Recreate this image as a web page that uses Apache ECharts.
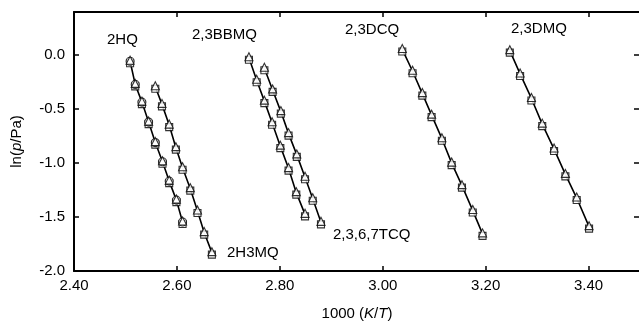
<!DOCTYPE html>
<html>
<head>
<meta charset="utf-8">
<script src="https://cdn.jsdelivr.net/npm/echarts@6/dist/echarts.min.js"></script>
<style>html,body{margin:0;padding:0;background:#fff}#c{width:639px;height:322px}</style>
</head>
<body>
<div id="c"></div>
<script>
// Data (1000/T in K^-1, ln(p/Pa))
const hq_x = [2.509, 2.519, 2.532, 2.545, 2.558, 2.572, 2.585, 2.599, 2.611];
const hq_y = [-0.056, -0.271, -0.435, -0.620, -0.810, -0.987, -1.167, -1.343, -1.546];
const h3mq_x = [2.558, 2.571, 2.585, 2.598, 2.611, 2.626, 2.640, 2.653, 2.668];
const h3mq_y = [-0.293, -0.456, -0.648, -0.857, -1.043, -1.237, -1.444, -1.644, -1.830];
const bbmq_x = [2.740, 2.755, 2.770, 2.785, 2.801, 2.817, 2.832, 2.849];
const bbmq_y = [-0.024, -0.232, -0.426, -0.626, -0.843, -1.051, -1.274, -1.475];
const tcq_x = [2.770, 2.786, 2.802, 2.817, 2.833, 2.849, 2.864, 2.880];
const tcq_y = [-0.121, -0.322, -0.523, -0.727, -0.924, -1.131, -1.330, -1.549];
const dcq_x = [3.038, 3.058, 3.077, 3.095, 3.115, 3.134, 3.154, 3.175, 3.194];
const dcq_y = [0.053, -0.149, -0.356, -0.556, -0.774, -1.000, -1.209, -1.440, -1.656];
const dmq_x = [3.247, 3.267, 3.289, 3.310, 3.333, 3.355, 3.377, 3.401];
const dmq_y = [0.042, -0.174, -0.401, -0.639, -0.870, -1.105, -1.324, -1.589];
const compounds = [
  {name: '2HQ', x: hq_x, y: hq_y, circle: true},
  {name: '2H3MQ', x: h3mq_x, y: h3mq_y},
  {name: '2,3BBMQ', x: bbmq_x, y: bbmq_y},
  {name: '2,3,6,7TCQ', x: tcq_x, y: tcq_y},
  {name: '2,3DCQ', x: dcq_x, y: dcq_y},
  {name: '2,3DMQ', x: dmq_x, y: dmq_y}
];
const xTicks = ['2.40', '2.60', '2.80', '3.00', '3.20', '3.40'];
const yTicks = ['-2.0', '-1.5', '-1.0', '-0.5', '0.0'];

const FONT = '"Liberation Sans", Arial, sans-serif';
const chart = echarts.init(document.getElementById('c'));
const series = [];
compounds.forEach(c => {
  const d = c.x.map((v, i) => [v, c.y[i]]);
  series.push({type: 'line', data: d, showSymbol: false, symbol: 'none', silent: true,
    lineStyle: {color: '#000', width: 1.6}, z: 2, animation: false});
  series.push({type: 'scatter', data: d, symbol: 'rect', symbolSize: 7, symbolOffset: [0, 2],
    itemStyle: {color: '#fff', borderColor: '#000', borderWidth: 1.1}, z: 3, animation: false});
  if (c.circle) {
    series.push({type: 'scatter', data: d, symbol: 'circle', symbolSize: 8,
      itemStyle: {color: '#fff', borderColor: '#000', borderWidth: 1.1}, z: 4, animation: false});
  }
  series.push({type: 'scatter', data: d, symbol: 'triangle', symbolSize: 8, symbolOffset: [0, -1],
    itemStyle: {color: '#fff', borderColor: '#000', borderWidth: 1.1}, z: 5, animation: false});
});

const axisLine = {show: true, onZero: false, lineStyle: {color: '#000', width: 2}};
const fmt = v => { const s = v.toFixed(2); return xTicks.includes(s) ? s : ''; };
const fmtY = v => { const s = v.toFixed(1); return yTicks.includes(s) ? s : ''; };
const labels = [
  ['2HQ', 107, 40], ['2,3BBMQ', 192, 35], ['2H3MQ', 227, 253],
  ['2,3,6,7TCQ', 333, 235], ['2,3DCQ', 345, 30], ['2,3DMQ', 511, 29]
];
chart.setOption({
  animation: false,
  grid: {left: 74, right: -1, top: 12, bottom: 51, containLabel: false, outerBoundsMode: 'none'},
  xAxis: [
    {type: 'value', min: 2.4, max: 3.5, interval: 0.2, position: 'bottom',
     axisLine, splitLine: {show: false},
     axisTick: {inside: true, length: 5, lineStyle: {color: '#000', width: 1.5}},
     axisLabel: {formatter: fmt, color: '#000', fontSize: 15, fontFamily: FONT, margin: 7,
       showMaxLabel: false},
     name: '{a|1000 (}{i|K}{a|/}{i|T}{a|)}', nameLocation: 'middle', nameGap: 35,
     nameTextStyle: {rich: {a: {fontSize: 15, fontFamily: FONT, color: '#000'},
       i: {fontSize: 15, fontFamily: FONT, color: '#000', fontStyle: 'italic'}}}},
    {type: 'value', min: 2.4, max: 3.5, interval: 0.2, position: 'top',
     axisLine, splitLine: {show: false},
     axisTick: {inside: true, length: 5, lineStyle: {color: '#000', width: 1.5}},
     axisLabel: {show: false}}
  ],
  yAxis: [
    {type: 'value', min: -2.0, max: 0.4, interval: 0.5, position: 'left',
     axisLine, splitLine: {show: false},
     axisTick: {inside: true, length: 5, lineStyle: {color: '#000', width: 1.5}},
     axisLabel: {formatter: fmtY, color: '#000', fontSize: 15, fontFamily: FONT, margin: 9,
       showMaxLabel: false},
     name: '{a|ln(}{i|p}{a|/Pa)}', nameLocation: 'middle', nameGap: 50, nameRotate: 90,
     nameTextStyle: {rich: {a: {fontSize: 15, fontFamily: FONT, color: '#000'},
       i: {fontSize: 15, fontFamily: FONT, color: '#000', fontStyle: 'italic'}}}},
    {type: 'value', min: -2.0, max: 0.4, interval: 0.5, position: 'right',
     axisLine, splitLine: {show: false},
     axisTick: {inside: true, length: 6, lineStyle: {color: '#000', width: 1.5}},
     axisLabel: {show: false}}
  ],
  graphic: labels.map(l => ({type: 'text', left: l[1], top: l[2] - 8,
    style: {text: l[0], font: '15px ' + FONT, fill: '#000'}})),
  series
});
</script>
</body>
</html>
